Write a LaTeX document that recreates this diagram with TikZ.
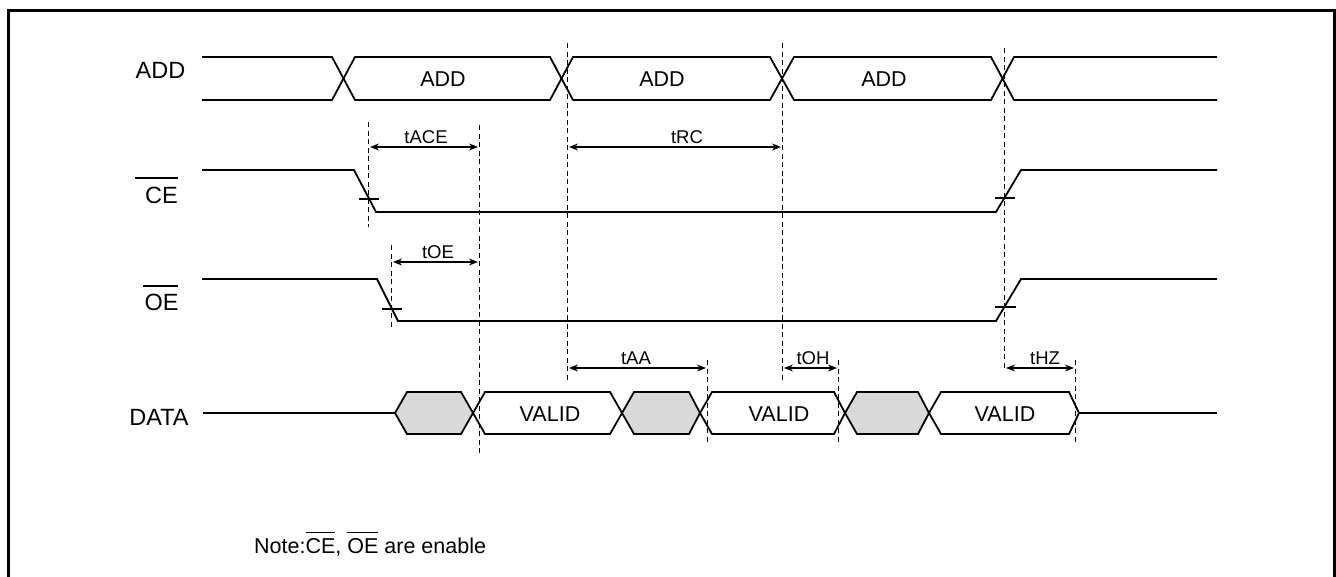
\documentclass[tikz,border=0pt]{standalone}
\usepackage{fontspec}
\setmainfont{Liberation Sans}
\usetikzlibrary{arrows.meta}
\newcommand{\barred}[1]{\setbox0=\hbox{#1}\rlap{\rule[\dimexpr\ht0+5pt\relax]{\wd0}{1.3pt}}\box0\relax}
\begin{document}
\begin{tikzpicture}[x=1pt,y=-1pt,
  sig/.style={line width=1.8pt, line join=miter},
  guide/.style={line width=0.9pt, dash pattern=on 5pt off 3.5pt},
  dim/.style={line width=1.1pt, {Stealth[length=9pt,width=7pt]}-{Stealth[length=9pt,width=7pt]}},
  tickmark/.style={line width=1.1pt},
  bar/.style={line width=1.5pt},
  lbl/.style={font=\fontsize{23.5}{28}\selectfont, inner sep=0},
  boxtxt/.style={font=\fontsize{21.5}{25}\selectfont, inner sep=0},
  tlbl/.style={font=\fontsize{18.5}{22}\selectfont, inner sep=0, anchor=base},
  hexgray/.style={sig, fill=black!15},
  hexwhite/.style={sig, fill=white}]
\useasboundingbox (0,0) rectangle (1336,576);
% frame
\draw[line width=2.5pt] (8.5,590) -- (8.5,10.5) -- (1334.5,10.5) -- (1334.5,590);

% ---- left labels
\node[lbl] (lADD) at (160.5,70.5) {ADD};
\node[lbl] (lCE) at (161.5,195) {CE};
\draw[bar] (135,178) -- (178,178);
\node[lbl] (lOE) at (161.5,302) {OE};
\draw[bar] (143,286) -- (178,286);
\node[lbl] (lDATA) at (159,417) {DATA};

% ---- ADD bus
\draw[sig] (202,57) -- (332,57) -- (355,100) -- (550,100) -- (573,57) -- (770,57) -- (794,100) -- (991,100) -- (1014,57) -- (1217,57);
\draw[sig] (202,100) -- (332,100) -- (355,57) -- (550,57) -- (573,100) -- (770,100) -- (794,57) -- (991,57) -- (1014,100) -- (1217,100);
\node[boxtxt] (a1) at (443,79.5) {ADD};
\node[boxtxt] (a2) at (662,79.5) {ADD};
\node[boxtxt] (a3) at (884,79.5) {ADD};

% ---- CE
\draw[sig] (202,170) -- (354,170) -- (376,212) -- (996,212) -- (1021,170) -- (1217,170);
\draw[tickmark] (359,199) -- (379,199);
\draw[tickmark] (995,198) -- (1015,198);

% ---- OE
\draw[sig] (202,279) -- (377,279) -- (398,321) -- (996,321) -- (1021,279) -- (1217,279);
\draw[tickmark] (382,309) -- (402,309);
\draw[tickmark] (995,307) -- (1016,307);

% ---- DATA
\draw[sig] (203,413) -- (395,413);
\draw[hexgray]  (395,413) -- (407,392) -- (461,392) -- (473,413) -- (461,434) -- (407,434) -- cycle;
\draw[hexwhite] (473,413) -- (485,392) -- (610,392) -- (622,413) -- (610,434) -- (485,434) -- cycle;
\draw[hexgray]  (622,413) -- (634,392) -- (689,392) -- (700,413) -- (689,434) -- (634,434) -- cycle;
\draw[hexwhite] (700,413) -- (712,392) -- (834,392) -- (845,413) -- (834,434) -- (712,434) -- cycle;
\draw[hexgray]  (845,413) -- (857,392) -- (918,392) -- (929,413) -- (918,434) -- (857,434) -- cycle;
\draw[hexwhite] (929,413) -- (941,392) -- (1069,392) -- (1079,413) -- (1069,434) -- (941,434) -- cycle;
\draw[sig] (1079,413) -- (1217,413);
\node[boxtxt] (v1) at (550,414) {VALID};
\node[boxtxt] (v2) at (779,414) {VALID};
\node[boxtxt] (v3) at (1005,414) {VALID};

% ---- guide lines
\draw[guide] (368,122) -- (368,227);
\draw[guide] (479,125) -- (479,453);
\draw[guide] (567,43) -- (567,383);
\draw[guide] (782,43) -- (782,383);
\draw[guide] (1004,48) -- (1004,370);
\draw[guide] (391,245) -- (391,327);
\draw[guide] (707,360) -- (707,442);
\draw[guide] (838,360) -- (838,442);
\draw[guide] (1075,360) -- (1075,442);

% ---- dimension arrows
\coordinate (ace1) at (370,147); \coordinate (ace2) at (478,147);
\draw[dim] (ace1) -- (ace2);
\node[tlbl] (tACE) at (426,143.5) {tACE};
\coordinate (rc1) at (569,147); \coordinate (rc2) at (781,147);
\draw[dim] (rc1) -- (rc2);
\node[tlbl] (tRC) at (687,143.5) {tRC};
\coordinate (oe1) at (393,262); \coordinate (oe2) at (478,262);
\draw[dim] (oe1) -- (oe2);
\node[tlbl] (tOE) at (438,258.5) {tOE};
\coordinate (aa1) at (569,368); \coordinate (aa2) at (706,368);
\draw[dim] (aa1) -- (aa2);
\node[tlbl] (tAA) at (636,364.5) {tAA};
\coordinate (oh1) at (784,368); \coordinate (oh2) at (837,368);
\draw[dim] (oh1) -- (oh2);
\node[tlbl] (tOH) at (813,364.5) {tOH};
\coordinate (hz1) at (1006,368); \coordinate (hz2) at (1074,368);
\draw[dim] (hz1) -- (hz2);
\node[tlbl] (tHZ) at (1045,364.5) {tHZ};

% ---- note
\node[font=\fontsize{21.5}{25}\selectfont, inner sep=0, anchor=base west] (note) at (254,553) {Note:\barred{CE}, \barred{OE} are enable};
\end{tikzpicture}
\end{document}
